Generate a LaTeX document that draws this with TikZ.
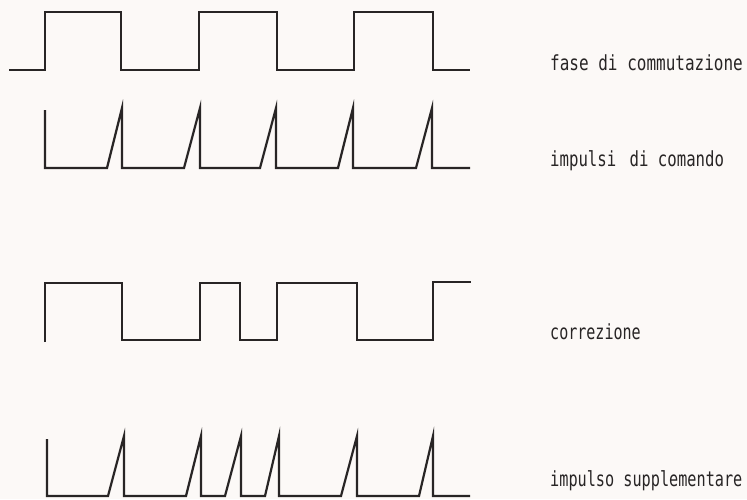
\documentclass[tikz,border=0pt]{standalone}
\usepackage{fontspec}
\newfontfamily\labelfont{DejaVu Sans Mono}
\definecolor{paper}{RGB}{252,249,247}
\definecolor{ink}{RGB}{40,37,37}
\tikzset{
  wave/.style={draw=ink, line width=2.2pt, line join=miter, line cap=butt},
  lbl/.style={anchor=base west, inner sep=0pt, text=ink, font=\labelfont\fontsize{16}{18}\selectfont}
}
\begin{document}
\begin{tikzpicture}[x=1pt,y=-1pt]
\fill[paper] (0,0) rectangle (747,499);
\useasboundingbox (0,0) rectangle (747,499);
% fase di commutazione
\draw[wave] (9,70) -- (45,70) -- (45,12) -- (121,12) -- (121,70) -- (199,70) -- (199,12)
  -- (277,12) -- (277,70) -- (354,70) -- (354,12) -- (433,12) -- (433,70) -- (470,70);
% impulsi di comando
\draw[wave] (45,110) -- (45,168) -- (107,168) -- (122,108) -- (122,168) -- (184,168) -- (200,108)
  -- (200,168) -- (260,168) -- (276,108) -- (276,168) -- (338,168) -- (353,108) -- (353,168)
  -- (416,168) -- (432,108) -- (432,168) -- (470,168);
% correzione
\draw[wave] (45,342) -- (45,283) -- (122,283) -- (122,340) -- (200,340) -- (200,283) -- (240,283)
  -- (240,340) -- (277,340) -- (277,283) -- (357,283) -- (357,340) -- (433,340) -- (433,282) -- (471,282);
% impulso supplementare
\draw[wave] (47,439) -- (47,496) -- (108,496) -- (124,436) -- (124,496) -- (186,496) -- (201,436)
  -- (201,496) -- (225,496) -- (241,436) -- (241,496) -- (265,496) -- (279,436) -- (279,496)
  -- (341,496) -- (357,436) -- (357,496) -- (419,496) -- (433,436) -- (433,496) -- (470,496);
\node[lbl] (l1) at (550,70) {\scalebox{1}[1.3]{fase di commutazione}};
\node[lbl] (l2) at (550,166) {\scalebox{0.98}[1.3]{impulsi\hspace{4pt} di comando}};
\node[lbl] (l3) at (550,339) {\scalebox{0.94}[1.3]{correzione}};
\node[lbl] (l4) at (550,486) {\scalebox{0.95}[1.3]{impulso supplementare}};
\end{tikzpicture}
\end{document}
